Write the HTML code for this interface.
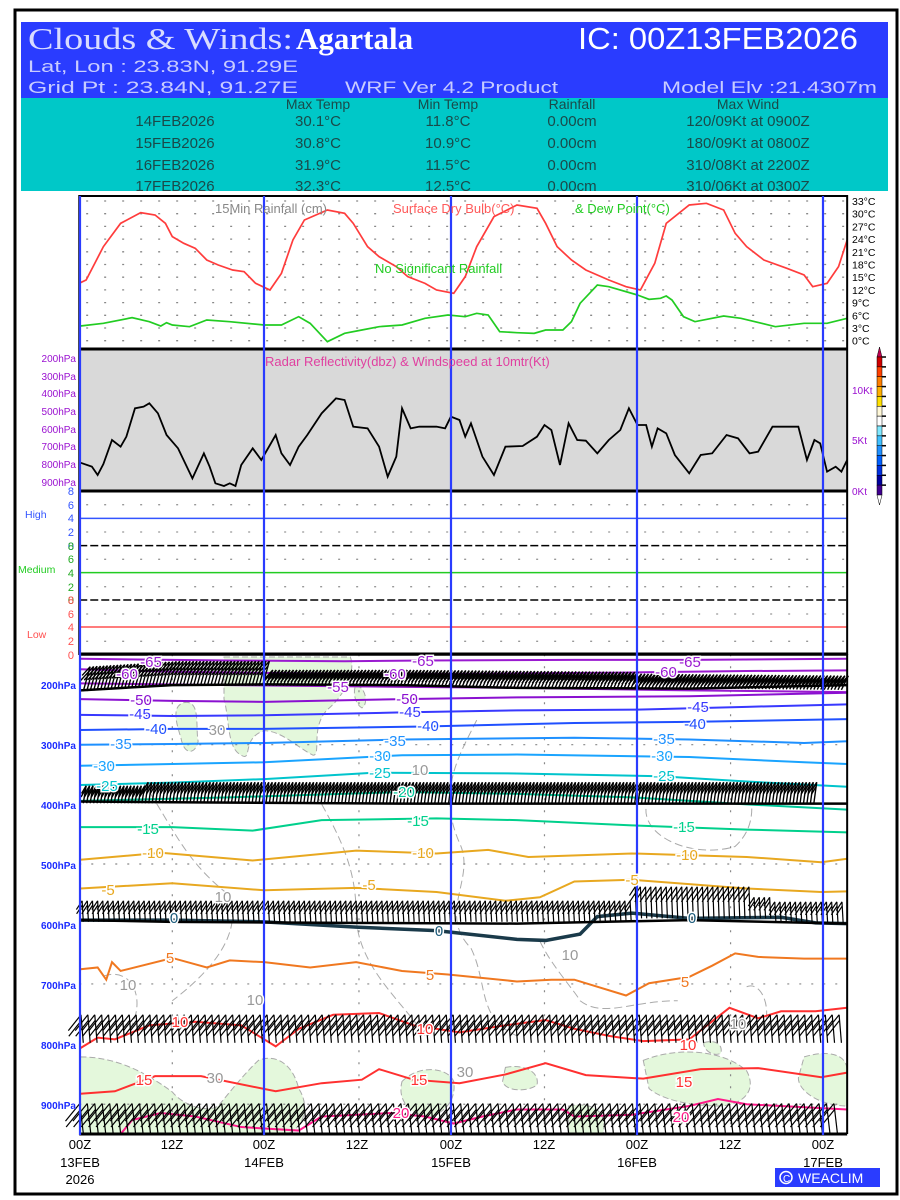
<!DOCTYPE html>
<html><head><meta charset="utf-8"><style>
html,body{margin:0;padding:0;background:#fff;}
svg{display:block;font-family:"Liberation Sans",sans-serif;}
.ns *{vector-effect:non-scaling-stroke;}
.lbl{paint-order:stroke;stroke:#fff;stroke-width:3px;font-size:15px;}
</style></head><body>
<svg id="root" width="900" height="1200" viewBox="0 0 900 1200" xmlns="http://www.w3.org/2000/svg">
<rect x="0" y="0" width="900" height="1200" fill="#fff"/>
<rect x="15" y="10" width="882" height="1184" fill="none" stroke="#000" stroke-width="3"/>
<!-- header -->
<rect x="21" y="22" width="867" height="76" fill="#2a3cff"/>
<rect x="21" y="98" width="867" height="93" fill="#00c8c8"/>
<text x="28" y="49" font-family="Liberation Serif,serif" font-size="31" fill="#d8dcff" textLength="265" lengthAdjust="spacingAndGlyphs">Clouds &amp; Winds:</text>
<text x="296" y="49" font-family="Liberation Serif,serif" font-size="31" font-weight="bold" fill="#fff">Agartala</text>
<text x="578" y="49" font-size="31" fill="#fff" textLength="280" lengthAdjust="spacingAndGlyphs">IC: 00Z13FEB2026</text>
<text x="28" y="72" font-size="17" fill="#c8ccff" textLength="270" lengthAdjust="spacingAndGlyphs">Lat, Lon : 23.83N, 91.29E</text>
<text x="28" y="93" font-size="17" fill="#c8ccff" textLength="270" lengthAdjust="spacingAndGlyphs">Grid Pt  : 23.84N, 91.27E</text>
<text x="345" y="93" font-size="17" fill="#c8ccff" textLength="213" lengthAdjust="spacingAndGlyphs">WRF Ver 4.2 Product</text>
<text x="662" y="93" font-size="17" fill="#c8ccff" textLength="215" lengthAdjust="spacingAndGlyphs">Model Elv :21.4307m</text>
<g font-size="14" fill="#1a4a4a" text-anchor="middle">
<text x="318" y="109">Max Temp</text><text x="448" y="109">Min Temp</text><text x="572" y="109">Rainfall</text><text x="748" y="109">Max Wind</text>
</g>
<g font-size="15" fill="#1a4a4a" text-anchor="middle">
<text x="175" y="126">14FEB2026</text><text x="318" y="126">30.1°C</text><text x="448" y="126">11.8°C</text><text x="572" y="126">0.00cm</text><text x="748" y="126">120/09Kt at 0900Z</text>
<text x="175" y="148">15FEB2026</text><text x="318" y="148">30.8°C</text><text x="448" y="148">10.9°C</text><text x="572" y="148">0.00cm</text><text x="748" y="148">180/09Kt at 0800Z</text>
<text x="175" y="170">16FEB2026</text><text x="318" y="170">31.9°C</text><text x="448" y="170">11.5°C</text><text x="572" y="170">0.00cm</text><text x="748" y="170">310/08Kt at 2200Z</text>
<text x="175" y="191">17FEB2026</text><text x="318" y="191">32.3°C</text><text x="448" y="191">12.5°C</text><text x="572" y="191">0.00cm</text><text x="748" y="191">310/06Kt at 0300Z</text>
</g>

<svg class="ns" x="0" y="190" width="900" height="470" viewBox="0 0 1567 1410" preserveAspectRatio="none">
<rect x="138" y="477" width="1337" height="426" fill="#d9d9d9"/>
<g id="tgrid" stroke="#888" stroke-width="1.3" stroke-dasharray="2,16"></g>
<polyline fill="none" stroke="#ff3c3c" stroke-width="1.7" points="140,278 150,270 165,220 180,170 210,100 245,68 270,75 288,100 300,140 320,160 340,175 360,210 380,225 405,240 425,245 445,280 470,300 490,250 510,150 530,90 570,60 600,70 615,100 640,170 660,200 690,230 710,260 740,280 760,300 790,310 810,260 830,170 860,80 900,45 935,55 950,100 970,170 995,210 1020,240 1060,270 1090,290 1115,300 1140,220 1160,100 1200,45 1230,40 1260,60 1280,130 1300,170 1330,210 1370,235 1400,255 1415,290 1440,280 1460,230 1475,150"/>
<polyline fill="none" stroke="#22cc22" stroke-width="1.7" points="140,408 180,400 230,383 260,395 280,408 290,398 300,405 330,410 360,390 400,395 460,405 490,405 520,380 540,400 570,455 600,430 630,420 660,410 700,405 740,385 780,375 810,380 830,370 850,375 870,425 900,428 930,430 950,420 980,420 995,395 1010,340 1040,285 1060,290 1110,315 1130,328 1150,325 1160,318 1170,330 1190,380 1210,395 1260,378 1290,385 1350,410 1400,400 1440,400 1475,385"/>
<polyline fill="none" stroke="#000" stroke-width="1.8" points="140,818 160,830 170,855 180,822 195,750 210,770 220,740 235,655 250,650 260,640 275,670 290,735 310,775 335,865 355,790 365,830 375,880 390,888 400,880 410,888 420,825 440,775 455,810 465,780 480,735 490,790 505,825 520,770 535,735 560,670 585,625 600,630 615,710 640,715 660,770 675,860 690,800 700,655 715,715 730,710 760,710 775,715 785,680 800,690 810,740 820,700 840,800 860,855 880,770 910,768 935,740 948,705 960,720 975,825 990,700 1005,750 1020,752 1040,790 1060,750 1080,720 1095,655 1110,705 1125,705 1135,770 1145,715 1160,730 1175,795 1200,850 1220,795 1240,790 1265,735 1285,745 1305,790 1320,785 1345,710 1390,710 1405,810 1418,750 1428,760 1440,845 1455,830 1465,845 1475,810"/>
<g stroke-width="1.5">
<line x1="138" y1="985" x2="1475" y2="985" stroke="#3355ff"/>
<line x1="138" y1="1067" x2="1475" y2="1067" stroke="#000" stroke-dasharray="8,3"/>
<line x1="138" y1="1148" x2="1475" y2="1148" stroke="#22cc22"/>
<line x1="138" y1="1230" x2="1475" y2="1230" stroke="#000" stroke-dasharray="8,3"/>
<line x1="138" y1="1311" x2="1475" y2="1311" stroke="#ff5050"/>
</g>
<rect x="138" y="18" width="1337" height="1374" fill="none" stroke="#000" stroke-width="2"/>
<line x1="138" y1="477" x2="1475" y2="477" stroke="#000" stroke-width="3"/>
<line x1="138" y1="903" x2="1475" y2="903" stroke="#000" stroke-width="3"/>
<line x1="138" y1="1392" x2="1475" y2="1392" stroke="#000" stroke-width="3"/>
</svg>

<svg class="ns" x="0" y="650" width="900" height="550" viewBox="0 0 1567 1568" preserveAspectRatio="none">
<g fill="#e4f8dc" stroke="#aaa" stroke-width="1" stroke-dasharray="6,3">
<path d="M320,150 C350,140 340,220 345,260 C340,300 320,300 315,250 C305,200 300,160 320,150Z"/>
<path d="M390,20 L610,20 C620,60 600,130 570,170 C540,220 560,300 545,300 C520,280 490,230 460,230 C420,250 440,320 420,300 C395,280 400,200 390,140Z"/>
<path d="M620,100 C640,110 640,160 630,165 C615,150 615,110 620,100Z"/>
<path d="M140,1160 C200,1160 250,1200 300,1260 C320,1300 360,1320 380,1300 C400,1260 430,1200 450,1170 C480,1150 510,1180 520,1250 C540,1300 530,1360 500,1380 L140,1380Z"/>
<path d="M700,1230 C730,1180 780,1190 790,1230 C795,1290 770,1320 750,1330 C720,1330 690,1290 700,1230Z"/>
<path d="M880,1190 C910,1180 940,1200 935,1240 C920,1260 880,1260 875,1230Z"/>
<path d="M1120,1170 C1180,1130 1260,1140 1300,1200 C1320,1260 1290,1300 1250,1300 C1200,1300 1150,1280 1130,1250Z"/>
<path d="M1400,1160 C1440,1140 1475,1150 1475,1200 L1475,1300 C1430,1300 1390,1260 1390,1220Z"/>
<path d="M990,1300 C1020,1290 1060,1300 1050,1380 L990,1380Z"/>
<path d="M1225,1120 C1240,1110 1260,1120 1255,1150 C1240,1160 1225,1140 1225,1120Z"/>
</g>
<g fill="none" stroke="#aaa" stroke-width="1" stroke-dasharray="8,4">
<path d="M250,380 C300,500 320,600 400,700 C420,800 380,900 300,1000"/>
<path d="M540,380 C580,500 620,600 620,750 C620,900 700,1000 740,1100"/>
<path d="M830,200 C800,300 760,400 800,550 C830,650 760,750 820,850 C850,950 830,1050 900,1100"/>
<path d="M1130,420 C1100,520 1200,600 1280,560 C1320,500 1310,420 1300,380"/>
<path d="M940,830 C960,900 1000,970 1010,1000 C1050,1050 1100,1000 1180,1000"/>
<path d="M180,930 C230,900 260,1000 220,1100"/>
<path d="M1300,960 C1330,940 1350,1050 1320,1100"/>
</g>
<g stroke="#888" stroke-width="1.2" stroke-dasharray="2,10">
<line x1="138" y1="270" x2="1475" y2="270"/><line x1="138" y1="610" x2="1475" y2="610"/>
<line x1="138" y1="952" x2="1475" y2="952"/><line x1="138" y1="1295" x2="1475" y2="1295"/>
<line x1="300" y1="12" x2="300" y2="1380"/><line x1="625" y1="12" x2="625" y2="1380"/>
<line x1="948" y1="12" x2="948" y2="1380"/><line x1="1272" y1="12" x2="1272" y2="1380"/>
</g>
<g fill="none" stroke-width="2">
<polyline stroke="#9a1ad0" points="140,25 400,30 600,32 740,30 1000,28 1200,28 1475,25"/>
<polyline stroke="#9a1ad0" points="140,55 300,62 600,68 800,68 1100,64 1300,60 1475,58"/>
<polyline stroke="#9a1ad0" points="140,95 400,100 700,105 900,108 1200,115 1475,120"/>
<polyline stroke="#8a10d0" points="140,140 300,145 460,148 700,140 900,135 1200,132 1475,122"/>
<polyline stroke="#3838ff" points="140,185 300,188 460,186 700,178 900,172 1110,170 1300,162 1475,155"/>
<polyline stroke="#2050ff" points="140,228 300,225 460,225 740,218 1000,208 1200,205 1475,197"/>
<polyline stroke="#1e90ff" points="140,270 300,268 460,265 700,255 1000,250 1200,255 1400,265 1475,260"/>
<polyline stroke="#1aa4ff" points="140,330 300,325 460,320 700,300 900,298 1200,305 1400,320 1475,325"/>
<polyline stroke="#00c4cc" points="140,385 300,378 460,368 650,350 900,352 1150,360 1300,375 1475,390"/>
<polyline stroke="#00c89a" points="140,430 400,420 700,405 900,410 1100,420 1300,440 1475,455"/>
<polyline stroke="#00d08c" points="140,505 300,505 440,515 560,485 760,480 900,485 1100,500 1300,512 1475,520"/>
<polyline stroke="#e8a820" points="140,598 280,578 440,600 620,572 760,580 850,570 920,590 1100,580 1300,590 1430,605 1475,595"/>
<polyline stroke="#e8a820" points="140,680 300,665 460,685 620,678 760,690 880,715 940,705 1000,660 1100,655 1300,680 1430,690 1475,688"/>
<polyline stroke="#1a3a4a" stroke-width="3.5" points="140,770 300,770 460,775 620,790 760,800 900,825 950,828 1010,810 1040,760 1100,750 1200,765 1360,762 1420,778 1475,780"/>
<polyline stroke="#f07820" points="140,910 170,905 185,940 195,890 210,915 300,878 360,905 400,885 460,890 540,905 620,890 700,915 780,925 900,945 960,940 1000,940 1090,985 1130,950 1200,932 1240,900 1280,865 1320,875 1400,880 1475,880"/>
<polyline stroke="#ff3030" points="140,1135 170,1105 200,1110 260,1070 340,1060 420,1070 480,1130 520,1080 580,1040 660,1035 720,1070 800,1090 880,1070 950,1055 1000,1080 1060,1100 1120,1115 1200,1110 1270,1020 1320,1050 1360,1030 1420,1030 1475,1020"/>
<polyline stroke="#ff3030" points="140,1265 200,1258 270,1215 350,1215 480,1258 560,1235 630,1225 660,1195 720,1225 800,1235 880,1210 950,1178 1020,1212 1120,1222 1220,1195 1320,1192 1430,1218 1475,1205"/>
<polyline stroke="#ff1a8a" points="210,1380 230,1340 280,1320 340,1330 420,1360 520,1370 560,1330 680,1320 740,1330 790,1350 840,1330 900,1310 980,1310 1000,1330 1100,1325 1200,1300 1250,1280 1300,1295 1475,1310"/>
</g>
<g id="barbs" stroke="#000" stroke-width="1.2" fill="none"></g>
<g stroke="#000" stroke-width="2.5" fill="none">
<polyline points="140,115 300,100 460,98 700,100 900,108 1200,110 1475,100"/>
<polyline points="140,432 300,434 700,438 1000,438 1475,438"/>
<polyline points="140,770 300,775 600,778 900,780 1200,770 1475,780"/>
</g>
<line x1="138" y1="12" x2="1475" y2="12" stroke="#000" stroke-width="3"/>
<line x1="138" y1="1380" x2="1475" y2="1380" stroke="#000" stroke-width="3"/>
<line x1="1475" y1="12" x2="1475" y2="1380" stroke="#000" stroke-width="2"/>
</svg>
<g stroke="#2a3cff" stroke-width="2.2">
<line x1="80" y1="196" x2="80" y2="1135"/><line x1="264" y1="196" x2="264" y2="1135"/>
<line x1="451" y1="196" x2="451" y2="1135"/><line x1="637" y1="196" x2="637" y2="1135"/>
<line x1="823" y1="196" x2="823" y2="1135"/>
</g>

<g font-size="13">
<text x="215" y="213" fill="#888">15Min Rainfall (cm)</text>
<text x="393" y="213" fill="#ff5a5a">Surface Dry Bulb(°C)</text>
<text x="575" y="213" fill="#22cc22">&amp; Dew Point(°C)</text>
<text x="375" y="273" fill="#22cc22">No Significant Rainfall</text>
<text x="265" y="366" fill="#e040a0">Radar Reflectivity(dbz) &amp; Windspeed at 10mtr(Kt)</text>
</g>
<g font-size="10.5" fill="#000" id="tlab"></g>
<g font-size="10" fill="#9a10d0" text-anchor="end">
<text x="76" y="362">200hPa</text><text x="76" y="380">300hPa</text><text x="76" y="397">400hPa</text><text x="76" y="415">500hPa</text><text x="76" y="433">600hPa</text><text x="76" y="450">700hPa</text><text x="76" y="468">800hPa</text><text x="76" y="486">900hPa</text>
</g>
<g font-size="10" fill="#9a10d0">
<text x="852" y="394">10Kt</text><text x="852" y="444">5Kt</text><text x="852" y="495">0Kt</text>
</g>
<g id="cbar"></g>
<g font-size="11" text-anchor="end">
<g fill="#3355ff"><text x="74" y="495">8</text><text x="74" y="509">6</text><text x="74" y="522">4</text><text x="74" y="536">2</text><text x="74" y="550">0</text></g>
<g fill="#22aa22"><text x="74" y="550">8</text><text x="74" y="563">6</text><text x="74" y="577">4</text><text x="74" y="591">2</text><text x="74" y="604">0</text></g>
<g fill="#ff5050"><text x="74" y="604">8</text><text x="74" y="618">6</text><text x="74" y="631">4</text><text x="74" y="645">2</text><text x="74" y="659">0</text></g>
</g>
<g font-size="10.5">
<text x="25" y="518" fill="#3355ff">High</text>
<text x="18" y="573" fill="#22cc22">Medium</text>
<text x="27" y="638" fill="#ff5050">Low</text>
</g>
<g font-size="10" fill="#1a2aff" font-weight="bold" text-anchor="end">
<text x="76" y="689">200hPa</text><text x="76" y="749">300hPa</text><text x="76" y="809">400hPa</text><text x="76" y="869">500hPa</text><text x="76" y="929">600hPa</text><text x="76" y="989">700hPa</text><text x="76" y="1049">800hPa</text><text x="76" y="1109">900hPa</text>
</g>
<g class="lbl" id="isolab"></g>
<g font-size="13" fill="#000" text-anchor="middle">
<text x="80" y="1149">00Z</text><text x="172" y="1149">12Z</text><text x="264" y="1149">00Z</text><text x="357" y="1149">12Z</text><text x="451" y="1149">00Z</text><text x="544" y="1149">12Z</text><text x="637" y="1149">00Z</text><text x="730" y="1149">12Z</text><text x="823" y="1149">00Z</text>
<text x="80" y="1167">13FEB</text><text x="264" y="1167">14FEB</text><text x="451" y="1167">15FEB</text><text x="637" y="1167">16FEB</text><text x="823" y="1167">17FEB</text>
<text x="80" y="1184">2026</text>
</g>
<rect x="775" y="1168" width="105" height="19" fill="#2a3cff"/>
<circle cx="786" cy="1177.5" r="6" fill="none" stroke="#fff" stroke-width="1.5"/>
<text x="783" y="1182" font-size="10" fill="#fff">C</text>
<text x="798" y="1183" font-size="14" fill="#fff">WEACLIM</text>
</svg>
<script>
(function(){
var NS="http://www.w3.org/2000/svg";
function el(p,t,a,txt){var e=document.createElementNS(NS,t);for(var k in a)e.setAttribute(k,a[k]);if(txt!=null)e.textContent=txt;p.appendChild(e);return e;}
var tg=document.getElementById('tgrid');
for(var k=0;k<12;k++){var y=33+k*38.1;el(tg,'line',{x1:150,y1:y,x2:1475,y2:y});}
var tl=document.getElementById('tlab');
for(var k=0;k<12;k++){var t=33-3*k;var y=190+(33+k*38.1)/3+4;el(tl,'text',{x:852,y:y},t+'°C');}
var up=document.querySelector('svg.ns');
[944,1026,1108,1190,1272,1354].forEach(function(y){el(up,'line',{x1:150,y1:y,x2:1475,y2:y,stroke:'#999','stroke-width':1.3,'stroke-dasharray':'2,16'});});
var cols=['#d00000','#ff4000','#ff7f00','#ffb000','#ffe000','#fff8d8','#ffffff','#80e8ff','#40c0ff','#2090ff','#0060ff','#0030e0','#0000a0','#400090'];
var cb=document.getElementById('cbar');
el(cb,'polygon',{points:'877,357 882,357 879.5,347',fill:'#c00050',stroke:'#000','stroke-width':0.5});
var h=(495-357)/cols.length;
cols.forEach(function(c,i){el(cb,'rect',{x:877,y:357+i*h,width:5,height:h,fill:c,stroke:'#000','stroke-width':0.5});el(cb,'line',{x1:882,y1:357+i*h,x2:886,y2:357+i*h,stroke:'#000','stroke-width':1.5});});
el(cb,'polygon',{points:'877,495 882,495 879.5,505',fill:'#fff',stroke:'#000','stroke-width':0.5});
var b=document.getElementById('barbs');
function band(x0,x1,step,baseF,len,dx,feat,sw){
 for(var x=x0;x<=x1;x+=step){var by=baseF(x);var L=len(x);var tx=x+dx, ty=by-L;
  el(b,'line',{x1:x,y1:by,x2:tx,y2:ty,'stroke-width':sw||1.2});
  if(feat){el(b,'line',{x1:tx,y1:ty,x2:tx+feat[0],y2:ty+feat[1],'stroke-width':sw||1.2});
   el(b,'line',{x1:tx-dx*0.2,y1:ty+L*0.2,x2:tx-dx*0.2+feat[0],y2:ty+L*0.2+feat[1],'stroke-width':sw||1.2});}}
}
band(145,1470,6,function(x){return x<300?118-(x-140)*0.1:(x<700?102:102+(x-700)*0.015);},function(x){return x<460?70:(x<1100?45:40);},12,[-14,25],1.4);
band(145,1420,6,function(x){return 437;},function(x){return x<250?50:60;},5,[-8,22],1.4);
band(145,1475,9,function(x){return x<1100?775:(x<1350?765:778);},function(x){return (x>1100&&x<1310)?90:60;},-2,[-10,25],1.2);
band(145,1470,12,function(x){return 1120;},function(x){return 80;},-4,[-22,45],1.2);
band(145,1470,13,function(x){return 1378;},function(x){return 85;},-6,[-25,50],1.2);
var L=[['-65',151,662,'#9a1ad0'],['-65',423,661,'#9a1ad0'],['-65',690,662,'#9a1ad0'],['-60',127,674,'#9a1ad0'],['-60',395,674,'#9a1ad0'],['-60',666,672,'#9a1ad0'],['-55',338,687,'#9a1ad0'],['-50',141,700,'#8a10d0'],['-50',407,699,'#8a10d0'],['-45',140,714,'#3838ff'],['-45',410,712,'#3838ff'],['-45',698,707,'#3838ff'],['-40',156,729,'#2050ff'],['-40',428,726,'#2050ff'],['-40',695,724,'#2050ff'],['-35',121,744,'#1e90ff'],['-35',395,741,'#1e90ff'],['-35',664,739,'#1e90ff'],['-30',104,766,'#1aa4ff'],['-30',380,756,'#1aa4ff'],['-30',662,756,'#1aa4ff'],['-25',107,786,'#00c4cc'],['-25',380,773,'#00c4cc'],['-25',664,776,'#00c4cc'],['-20',404,792,'#00c89a'],['-15',148,829,'#00d08c'],['-15',418,821,'#00d08c'],['-15',684,827,'#00d08c'],['-10',153,853,'#e8a820'],['-10',423,853,'#e8a820'],['-10',687,855,'#e8a820'],['-5',108,890,'#e8a820'],['-5',369,885,'#e8a820'],['-5',632,880,'#e8a820'],['0',174,918,'#1a5a7a'],['0',439,931,'#1a5a7a'],['0',692,918,'#1a5a7a'],['5',170,958,'#f07820'],['5',430,975,'#f07820'],['5',685,982,'#f07820'],['10',180,1022,'#ff3030'],['10',425,1029,'#ff3030'],['10',688,1045,'#ff3030'],['15',144,1080,'#ff3030'],['15',419,1080,'#ff3030'],['15',684,1082,'#ff3030'],['20',401,1113,'#ff1a8a'],['20',681,1117,'#ff1a8a'],['30',217,730,'#999'],['10',420,770,'#999'],['10',223,897,'#999'],['10',128,985,'#999'],['10',255,1000,'#999'],['10',570,955,'#999'],['30',215,1078,'#999'],['30',465,1072,'#999'],['10',738,1024,'#999']];
var g=document.getElementById('isolab');
L.forEach(function(a){el(g,'text',{x:a[1],y:a[2]+5,fill:a[3],'text-anchor':'middle'},a[0]);});
})();
</script>
</body></html>
